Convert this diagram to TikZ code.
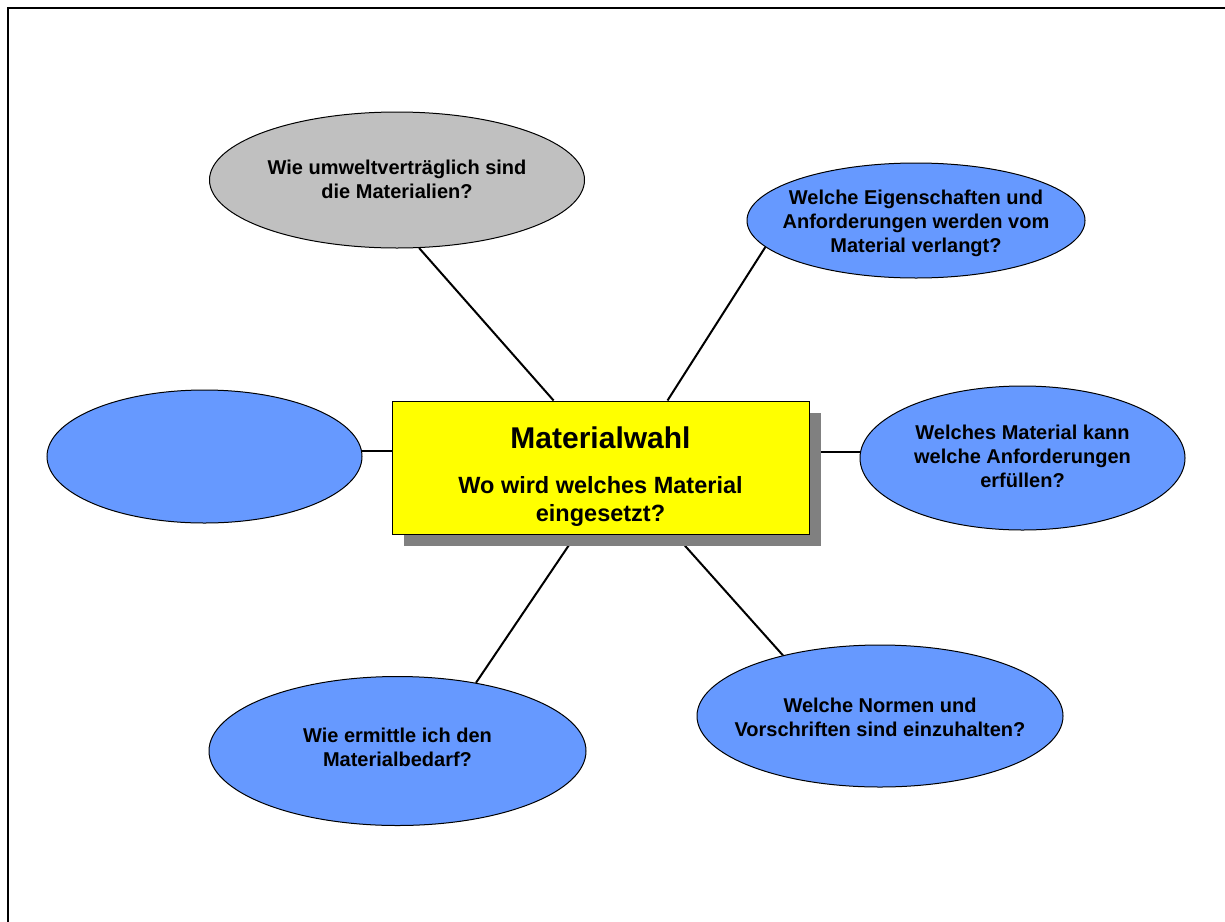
\documentclass[tikz,border=0pt]{standalone}
\usepackage{fontspec}
\setmainfont{Liberation Sans}
\usetikzlibrary{shapes.geometric,shadows,backgrounds}
\definecolor{ellblue}{RGB}{102,153,255}
\definecolor{ellgray}{RGB}{192,192,192}
\definecolor{shadowgray}{RGB}{128,128,128}
\definecolor{boxyellow}{RGB}{255,255,0}
\tikzset{
  bubble/.style={ellipse, draw=black, line width=1pt, fill=ellblue, inner sep=0pt},
  bubbletext/.style={font=\bfseries\fontsize{20}{24}\selectfont, align=center, inner sep=0pt},
  centerbox/.style={rectangle, draw=black, line width=1pt, fill=boxyellow, inner sep=0pt,
    minimum width=417pt, minimum height=133pt,
    drop shadow={shadow xshift=12pt, shadow yshift=-12pt, fill=shadowgray, opacity=1}},
  conn/.style={draw=black, line width=2pt},
  frameline/.style={draw=black, line width=2.2pt}
}
\begin{document}
\begin{tikzpicture}[x=1pt,y=-1pt]
\useasboundingbox (0,0) rectangle (1225,921);
\draw[frameline] (1230,8) -- (8,8) -- (8,930);

\node[bubble, fill=ellgray, minimum width=375pt, minimum height=136pt,
  label={[bubbletext, yshift=1pt]center:{Wie umweltverträglich sind\\die Materialien?}}] (g) at (397,180) {};
\node[bubble, minimum width=338pt, minimum height=115pt,
  label={[bubbletext, yshift=-3pt]center:{Welche Eigenschaften und\\Anforderungen werden vom\\Material verlangt?}}] (tr) at (916,220.5) {};
\node[bubble, minimum width=325pt, minimum height=144pt,
  label={[bubbletext, yshift=2pt]center:{Welches Material kann\\welche Anforderungen\\erfüllen?}}] (r) at (1022.5,458) {};
\node[bubble, minimum width=366pt, minimum height=142pt,
  label={[bubbletext, yshift=-1pt]center:{Welche Normen und\\Vorschriften sind einzuhalten?}}] (br) at (880,716) {};
\node[bubble, minimum width=377pt, minimum height=149pt,
  label={[bubbletext, yshift=3.5pt]center:{Wie ermittle ich den\\Materialbedarf?}}] (bl) at (397.5,751) {};
\node[bubble, minimum width=315pt, minimum height=133pt] (l) at (204.5,456.5) {};

\node[centerbox] (m) at (600.5,467.5) {};
\node[anchor=base, inner sep=0pt, font=\bfseries\fontsize{30}{36}\selectfont] (title) at (600.5,448) {Materialwahl};
\node[anchor=base, inner sep=0pt, font=\bfseries\fontsize{23.5}{28}\selectfont] (sub1) at (600.5,493) {Wo wird welches Material};
\node[anchor=base, inner sep=0pt, font=\bfseries\fontsize{23.5}{28}\selectfont] (sub2) at (600.5,521) {eingesetzt?};

\begin{pgfonlayer}{background}
\draw[conn] (g.-72.8) -- (m.125);
\draw[conn] (tr.190.2) -- (m.45.9);
\draw[conn] (l.2) -- (l.2 -| m.center);
\draw[conn] (r.178) -- (r.178 -| m.center);
\draw[conn] (bl.41.6) -- (m.-110);
\draw[conn] (br.148.6) -- (m.-42.8);
\end{pgfonlayer}
\end{tikzpicture}
\end{document}
